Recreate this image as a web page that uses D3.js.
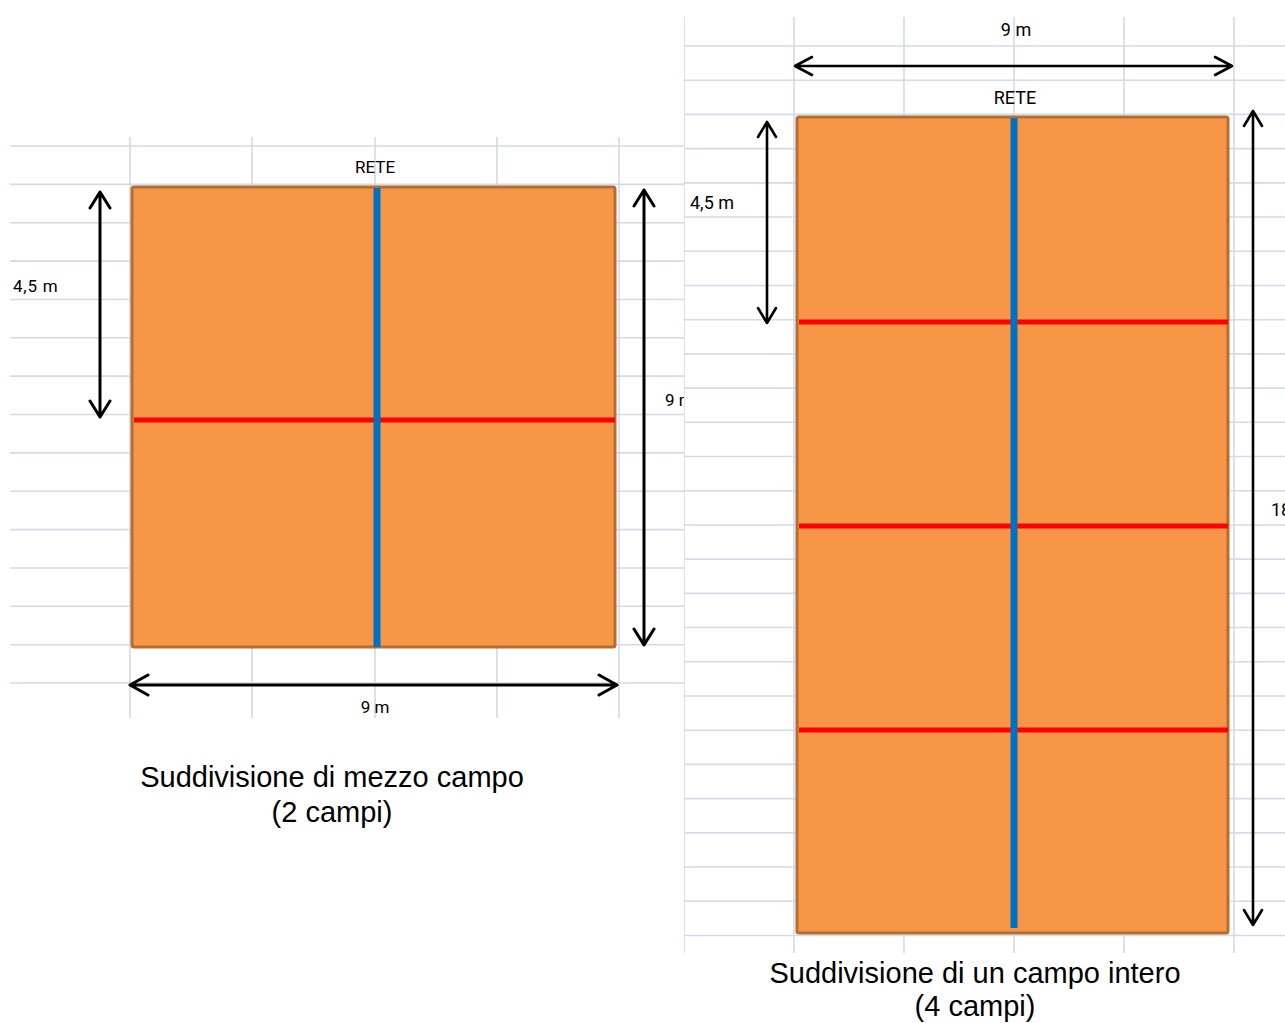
<!DOCTYPE html>
<html>
<head>
<meta charset="utf-8">
<script src="https://cdn.jsdelivr.net/npm/d3@7"></script>
<style>
  body { margin: 0; background: #fff; }
  svg { display: block; }
</style>
</head>
<body>
<div id="chart"></div>
<script>
// court data, in metres
var courtWidth = 9;
var courtLengths = [9, 18];
var redLines = [[4.5], [4.5, 9, 13.5]];
var netAt = 4.5;
var sideDim = [4.5, 4.5];
var netLabel = "RETE";
var sideLabels = ["4,5 m", "4,5 m"];
var lengthLabels = ["9 m", "18 m"];
var widthLabels = ["9 m", "9 m"];
var titleLines = [
  ["Suddivisione di mezzo campo", "(2 campi)"],
  ["Suddivisione di un campo intero", "(4 campi)"]
];

// page layout (pixels)
var W = 1285, H = 1023;
var layout = [
  {
    clip: [0, 684],
    court: {x0: 132, x1: 615, y0: 187, y1: 647},
    grid: {x0: 10, x1: 684, cols: [130, 252, 375, 497, 619], colTop: 137, colBottom: 718,
           rowTop: 146, rowStep: 38.36, rows: 15},
    netShift: 3.5, redShift: 3,
    side: {x: 100, inset: [5, 0]}, sideText: [13, 292, "start"],
    len: {x: 644, inset: [3, -2]}, lenText: [665, 406, "start"],
    wid: {y: 685, inset: [-2, 2]}, widText: [375, 713],
    netText: [375, 173],
    title: [332, 787, 822],
    head: [16, 10], arrowW: 3
  },
  {
    clip: [684, W],
    court: {x0: 797, x1: 1228, y0: 117, y1: 933},
    grid: {x0: 684, x1: W, cols: [684, 794, 904, 1014, 1124, 1234], colTop: 17, colBottom: 953,
           rowTop: 46, rowStep: 34.21, rows: 27},
    netShift: 1.5, redShift: 1,
    side: {x: 767, inset: [5, 2]}, sideText: [690, 209, "start"],
    len: {x: 1253, inset: [-6, -8]}, lenText: [1271, 516, "start"],
    wid: {y: 66, inset: [-2, 4]}, widText: [1016, 36],
    netText: [1015, 104],
    title: [975, 983, 1016],
    head: [15, 9], arrowW: 2.6
  }
];

var svg = d3.select("#chart")
  .append("svg")
    .attr("width", W)
    .attr("height", H);

var defs = svg.append("defs");

function arrowPath(x1, y1, x2, y2, len, half) {
  var dx = x2 - x1, dy = y2 - y1, d = Math.sqrt(dx * dx + dy * dy);
  var ux = dx / d, uy = dy / d, nx = -uy, ny = ux;
  var p = d3.path();
  p.moveTo(x1, y1); p.lineTo(x2, y2);
  // head at start
  p.moveTo(x1 + ux * len + nx * half, y1 + uy * len + ny * half);
  p.lineTo(x1, y1);
  p.lineTo(x1 + ux * len - nx * half, y1 + uy * len - ny * half);
  // head at end
  p.moveTo(x2 - ux * len + nx * half, y2 - uy * len + ny * half);
  p.lineTo(x2, y2);
  p.lineTo(x2 - ux * len - nx * half, y2 - uy * len - ny * half);
  return p.toString();
}

layout.forEach(function (L, i) {
  defs.append("clipPath").attr("id", "clip" + i)
    .append("rect")
      .attr("x", L.clip[0]).attr("y", 0)
      .attr("width", L.clip[1] - L.clip[0]).attr("height", H);

  var g = svg.append("g").attr("clip-path", "url(#clip" + i + ")");

  g.append("rect")
    .attr("x", L.clip[0]).attr("y", 0)
    .attr("width", L.clip[1] - L.clip[0]).attr("height", H)
    .attr("fill", "#fff");

  var x = d3.scaleLinear().domain([0, courtWidth]).range([L.court.x0, L.court.x1]);
  var y = d3.scaleLinear().domain([0, courtLengths[i]]).range([L.court.y0, L.court.y1]);

  // spreadsheet grid behind the drawing
  var grid = g.append("g")
      .attr("stroke", "#D3DAE8")
      .attr("stroke-width", 1.6);
  grid.selectAll("line.row")
    .data(d3.range(L.grid.rows))
    .enter().append("line")
      .attr("class", "row")
      .attr("x1", L.grid.x0).attr("x2", L.grid.x1)
      .attr("y1", function (d) { return L.grid.rowTop + d * L.grid.rowStep; })
      .attr("y2", function (d) { return L.grid.rowTop + d * L.grid.rowStep; });
  grid.selectAll("line.col")
    .data(L.grid.cols)
    .enter().append("line")
      .attr("class", "col")
      .attr("x1", function (d) { return d; }).attr("x2", function (d) { return d; })
      .attr("y1", L.grid.colTop).attr("y2", L.grid.colBottom);

  // court
  g.append("rect")
    .attr("x", x(0)).attr("y", y(0))
    .attr("width", x(courtWidth) - x(0))
    .attr("height", y(courtLengths[i]) - y(0))
    .attr("rx", 2)
    .attr("fill", "#F79646")
    .attr("stroke", "#B66D31")
    .attr("stroke-width", 3);

  g.selectAll("line.red")
    .data(redLines[i])
    .enter().append("line")
      .attr("class", "red")
      .attr("x1", x(0) + 2).attr("x2", x(courtWidth))
      .attr("y1", function (d) { return y(d) + L.redShift; })
      .attr("y2", function (d) { return y(d) + L.redShift; })
      .attr("stroke", "#FF0000")
      .attr("stroke-width", 5);

  g.append("line")
    .attr("x1", x(netAt) + L.netShift).attr("x2", x(netAt) + L.netShift)
    .attr("y1", y(0) + 1).attr("y2", y(courtLengths[i]) - (i ? 5 : 0))
    .attr("stroke", "#0070C0")
    .attr("stroke-width", 7);

  // dimension arrows
  var arrows = g.append("g")
      .attr("fill", "none")
      .attr("stroke", "#000")
      .attr("stroke-width", L.arrowW)
      .attr("stroke-linecap", "round")
      .attr("stroke-linejoin", "round");
  arrows.append("path")
    .attr("d", arrowPath(L.side.x, y(0) + L.side.inset[0], L.side.x, y(sideDim[i]) + L.side.inset[1], L.head[0], L.head[1]));
  arrows.append("path")
    .attr("d", arrowPath(L.len.x, y(0) + L.len.inset[0], L.len.x, y(courtLengths[i]) + L.len.inset[1], L.head[0], L.head[1]));
  arrows.append("path")
    .attr("d", arrowPath(x(0) + L.wid.inset[0], L.wid.y, x(courtWidth) + L.wid.inset[1], L.wid.y, L.head[0] + 2, L.head[1]));

  // labels
  var small = g.append("g")
      .attr("font-family", "Roboto, 'DejaVu Sans', sans-serif")
      .attr("font-size", i ? 18 : 17)
      .attr("fill", "#000");
  small.append("text")
    .attr("x", L.netText[0]).attr("y", L.netText[1])
    .attr("text-anchor", "middle")
    .text(netLabel);
  small.append("text")
    .attr("x", L.sideText[0]).attr("y", L.sideText[1])
    .attr("text-anchor", L.sideText[2])
    .attr("letter-spacing", i ? 0 : 0.8)
    .text(sideLabels[i]);
  small.append("text")
    .attr("x", L.lenText[0]).attr("y", L.lenText[1])
    .attr("text-anchor", L.lenText[2])
    .text(lengthLabels[i]);
  small.append("text")
    .attr("x", L.widText[0]).attr("y", L.widText[1])
    .attr("text-anchor", "middle")
    .text(widthLabels[i]);

  g.selectAll("text.title")
    .data(titleLines[i])
    .enter().append("text")
      .attr("class", "title")
      .attr("x", L.title[0])
      .attr("y", function (d, k) { return L.title[1 + k]; })
      .attr("text-anchor", "middle")
      .attr("font-family", "'Liberation Sans', Arial, sans-serif")
      .attr("font-size", 29)
      .attr("fill", "#000")
      .text(function (d) { return d; });
});
</script>
</body>
</html>
